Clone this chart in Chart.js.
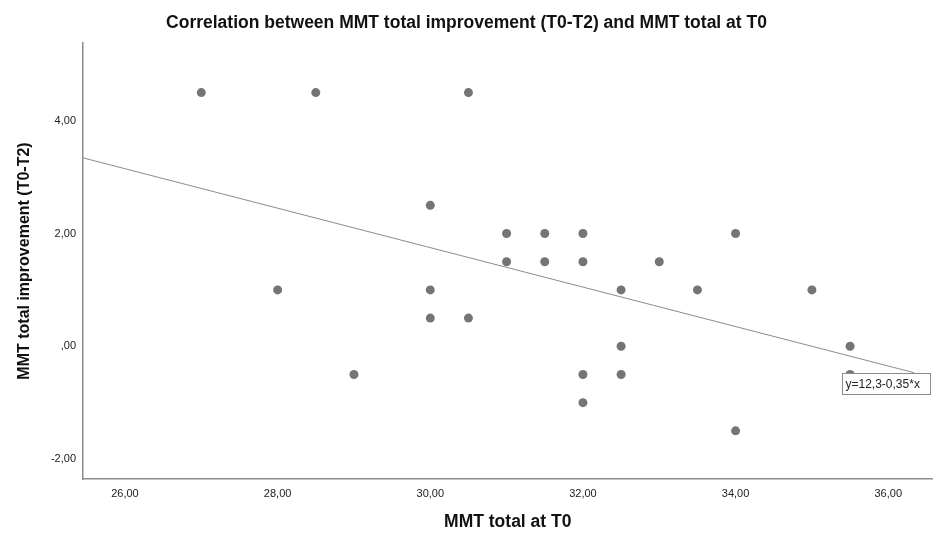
<!DOCTYPE html>
<html>
<head>
<meta charset="utf-8">
<script src="https://cdn.jsdelivr.net/npm/chart.js@4/dist/chart.umd.min.js"></script>
<style>
  body { margin: 0; background: #fff; }
  #chart { display: block; }
</style>
</head>
<body>
<canvas id="chart" width="937" height="534"></canvas>
<script>
// MMT total at T0 (x) and improvement T0-T2 (y), one entry per subject
const mmtT0 = [27, 28.5, 30.5, 30, 28, 29, 30, 30, 30.5, 31, 31, 31.5, 31.5, 32, 32, 33, 32.5, 33.5, 34, 35, 32.5, 35.5, 32, 32.5, 35.5, 32, 34];
const improvement = [4.5, 4.5, 4.5, 2.5, 1, -0.5, 1, 0.5, 0.5, 2, 1.5, 2, 1.5, 2, 1.5, 1.5, 1, 1, 2, 1, 0, 0, -0.5, -0.5, -0.5, -1, -1.5];

const xTicks = [26, 28, 30, 32, 34, 36];
const yTicks = [-2, 0, 2, 4];

// fit line y = a + b*x
const fitIntercept = 12.25;
const fitSlope = -0.35;
const fitLabel = "y=12,3-0,35*x";
const fitStart = 25.45;
const fitEnd = 36.34;

const fitY = (x) => fitIntercept + fitSlope * x;

const points = mmtT0.map((x, i) => ({ x: x, y: improvement[i] }));
const fitLine = [fitStart, fitEnd].map((x) => ({ x: x, y: fitY(x) }));

// SPSS style numbers: 4,00  ,00  -2,00
function spssNum(v) {
  if (v === 0) return ",00";
  return v.toFixed(2).replace(".", ",");
}

const fontFamily = "'Liberation Sans', Arial, sans-serif";

// box with the equation at the end of the fit line
const fitLabelPlugin = {
  id: "fitLabel",
  afterDatasetsDraw(chart) {
    const ctx = chart.ctx;
    const px = chart.scales.x.getPixelForValue(fitEnd);
    const py = chart.scales.y.getPixelForValue(fitY(fitEnd));
    const left = Math.round(px - 72) + 0.5;
    const top = Math.round(py) + 0.5;
    ctx.save();
    ctx.fillStyle = "#fff";
    ctx.strokeStyle = "#8c8c8c";
    ctx.lineWidth = 1;
    ctx.fillRect(left, top, 88, 21);
    ctx.strokeRect(left, top, 88, 21);
    ctx.fillStyle = "#222";
    ctx.font = "12px " + fontFamily;
    ctx.textBaseline = "middle";
    ctx.textAlign = "left";
    ctx.fillText(fitLabel, left + 3, top + 11);
    ctx.restore();
  },
};

const ctx = document.getElementById("chart").getContext("2d");
const chart = new Chart(ctx, {
  type: "scatter",
  data: {
    datasets: [
      {
        label: "Subjects",
        data: points,
        backgroundColor: "#757575",
        borderColor: "#757575",
        pointRadius: 4.5,
        pointBorderWidth: 0,
        order: 1,
      },
      {
        type: "line",
        label: "Fit",
        data: fitLine,
        borderColor: "#8c8c8c",
        borderWidth: 1,
        pointRadius: 0,
        fill: false,
        order: 0,
      },
    ],
  },
  options: {
    responsive: false,
    devicePixelRatio: 1,
    animation: false,
    layout: { padding: { left: 0, right: 4, top: 0, bottom: 0 } },
    plugins: {
      legend: { display: false },
      tooltip: { enabled: false },
      title: {
        display: true,
        text: "Correlation between MMT total improvement (T0-T2) and MMT total at T0",
        color: "#111",
        font: { family: fontFamily, size: 17.5, weight: "bold" },
        padding: { top: 12.5, bottom: 9.5 },
      },
    },
    scales: {
      x: {
        type: "linear",
        min: 25.45,
        max: 36.58,
        afterBuildTicks: (scale) => {
          scale.ticks = xTicks.map((v) => ({ value: v }));
        },
        afterFit: (scale) => {
          scale.height = 55;
        },
        grid: { display: false, drawTicks: false },
        border: { display: true, color: "#8c8c8c", width: 1.5 },
        ticks: {
          color: "#222",
          padding: 8,
          font: { family: fontFamily, size: 11 },
          callback: (v) => spssNum(v),
        },
        title: {
          display: true,
          text: "MMT total at T0",
          color: "#111",
          font: { family: fontFamily, size: 17.5, weight: "bold" },
          padding: { top: 0, bottom: 1 },
        },
      },
      y: {
        type: "linear",
        min: -2.354,
        max: 5.38,
        afterBuildTicks: (scale) => {
          scale.ticks = yTicks.map((v) => ({ value: v }));
        },
        afterFit: (scale) => {
          scale.width = 83;
        },
        grid: { display: false, drawTicks: false },
        border: { display: true, color: "#8c8c8c", width: 1.5 },
        ticks: {
          color: "#222",
          padding: 7,
          font: { family: fontFamily, size: 11 },
          callback: (v) => spssNum(v),
        },
        title: {
          display: true,
          text: "MMT total improvement (T0-T2)",
          color: "#111",
          font: { family: fontFamily, size: 16, weight: "bold" },
          padding: { top: 15, bottom: 0 },
        },
      },
    },
  },
  plugins: [fitLabelPlugin],
});
</script>
</body>
</html>
